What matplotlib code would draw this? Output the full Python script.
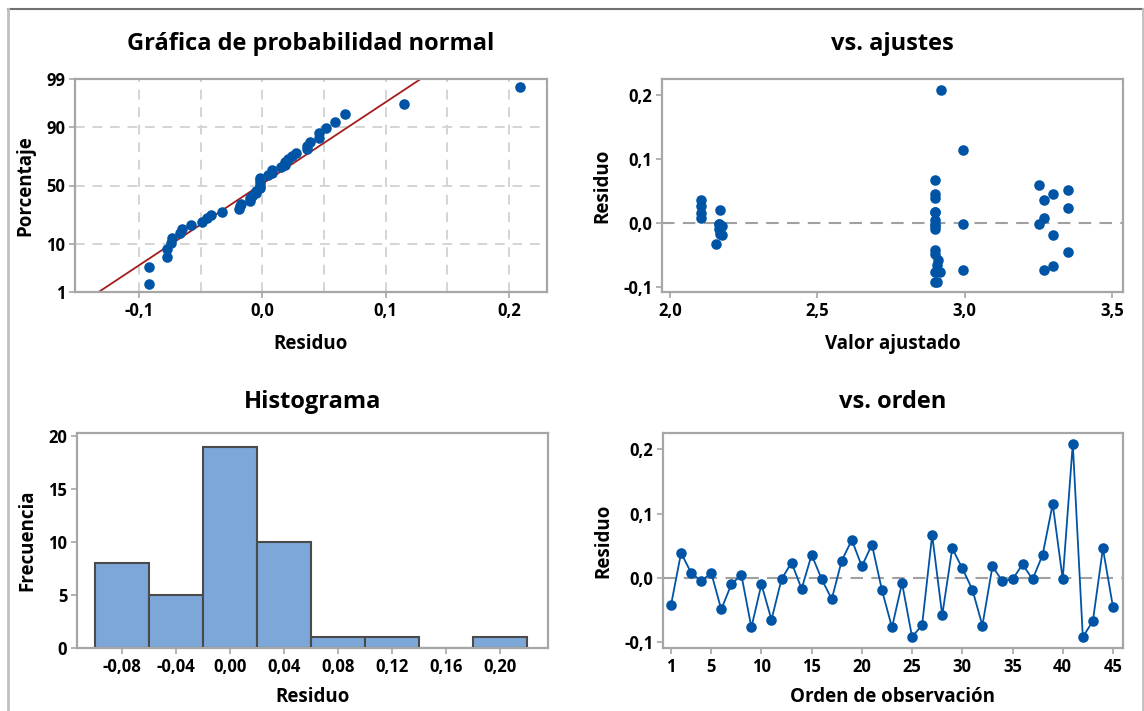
import numpy as np
import matplotlib
matplotlib.use("Agg")
import matplotlib.pyplot as plt
from matplotlib.ticker import FuncFormatter, FixedLocator
from matplotlib.lines import Line2D
from statistics import NormalDist

plt.rcParams['font.family'] = ['Open Sans', 'DejaVu Sans']
plt.rcParams['font.weight'] = 'bold'

# ---------------- data ----------------
observation = list(range(1, 46))
residuals = [-0.042, 0.039, 0.008, -0.005, 0.008, -0.049, -0.010, 0.005, -0.077, -0.010,
             -0.065, -0.002, 0.024, -0.017, 0.036, -0.002, -0.033, 0.027, 0.059, 0.018,
             0.052, -0.019, -0.077, -0.008, -0.092, -0.073, 0.067, -0.058, 0.046, 0.015,
             -0.018, -0.074, 0.018, -0.005, -0.002, 0.021, -0.002, 0.036, 0.115, -0.002,
             0.209, -0.092, -0.067, 0.046, -0.045]
fitted = [2.900, 2.900, 2.107, 2.900, 3.270, 2.900, 2.900, 2.900, 2.900, 2.165,
          2.905, 2.900, 3.352, 2.170, 3.270, 2.165, 2.155, 2.107, 3.251, 2.900,
          3.352, 3.300, 2.915, 2.170, 2.900, 3.270, 2.900, 2.910, 2.900, 2.107,
          2.175, 2.994, 2.900, 2.175, 2.994, 2.170, 2.165, 2.107, 2.994, 3.251,
          2.919, 2.905, 3.300, 3.300, 3.352]
hist_edges = [-0.10, -0.06, -0.02, 0.02, 0.06, 0.10, 0.14, 0.18, 0.22]

prob_yticks = [1, 10, 50, 90, 99]
prob_xticks = [-0.1, 0.0, 0.1, 0.2]
prob_xgrid = [-0.1, -0.05, 0.0, 0.05, 0.1, 0.15, 0.2]
fits_xticks = [2.0, 2.5, 3.0, 3.5]
res_yticks = [-0.1, 0.0, 0.1, 0.2]
hist_xticks = [-0.08, -0.04, 0.00, 0.04, 0.08, 0.12, 0.16, 0.20]
hist_yticks = [0, 5, 10, 15, 20]
order_xticks = [1, 5, 10, 15, 20, 25, 30, 35, 40, 45]

# ---------------- styles ----------------
W, H = 1144, 711
BLUE = '#0054a6'
SPINE = '#a6a6a6'
GRID = '#d4d4d4'
TICKFS = 12
LABELFS = 13.5
TITLEFS = 17
MS = 7.6

fig = plt.figure(figsize=(W / 100, H / 100), dpi=100)
fig.patch.set_facecolor('white')

def px_axes(l, r, t, b):
    return fig.add_axes([l / W, 1 - b / H, (r - l) / W, (b - t) / H])

def comma_fmt(dec):
    def f(v, pos):
        s = f"{v:.{dec}f}".replace('.', ',')
        if s.startswith('-') and float(v) == 0:
            s = s[1:]
        return s
    return FuncFormatter(f)

def style(ax):
    for s in ax.spines.values():
        s.set_color(SPINE)
        s.set_linewidth(1.6)
    ax.tick_params(axis='both', colors=SPINE, labelcolor='black', length=4, width=1.2,
                   labelsize=TICKFS, direction='out')
    ax.tick_params(axis='x', pad=3)
    ax.tick_params(axis='y', pad=3)
    for lab in ax.get_xticklabels() + ax.get_yticklabels():
        lab.set_fontweight('bold')

nd = NormalDist()

def probit(p):
    arr = np.asarray(p, dtype=float)
    out = np.full(arr.shape, np.nan)
    flat = arr.ravel()
    o = out.ravel()
    for i, v in enumerate(flat):
        if np.isfinite(v):
            q = min(max(v / 100.0, 1e-9), 1 - 1e-9)
            o[i] = nd.inv_cdf(q)
    return o.reshape(arr.shape)

def inv_probit(z):
    arr = np.asarray(z, dtype=float)
    out = np.full(arr.shape, np.nan)
    flat = arr.ravel()
    o = out.ravel()
    for i, v in enumerate(flat):
        if np.isfinite(v):
            o[i] = nd.cdf(v) * 100.0
    return o.reshape(arr.shape)

res = np.array(residuals)
n = len(res)

# ---------------- 1. normal probability plot ----------------
ax1 = px_axes(75, 547, 79, 292)
ax1.set_yscale('function', functions=(probit, inv_probit))
ax1.set_ylim(1, 99)
ax1.set_xlim(-0.152, 0.231)
for g in prob_xgrid:
    ax1.axvline(g, color=GRID, lw=1.4, ls=(0, (5, 4)), zorder=0)
for g in [10, 50, 90]:
    ax1.axhline(g, color=GRID, lw=1.4, ls=(0, (5, 4)), zorder=0)
srt = np.sort(res)
ranks = (np.arange(1, n + 1) - 0.3) / (n + 0.4) * 100
mu, sd = res.mean(), res.std(ddof=1)
pline = np.linspace(1, 99, 200)
ax1.plot(mu + sd * probit(pline), pline, color='#a51c1c', lw=1.3, zorder=2)
ax1.plot(srt, ranks, 'o', color=BLUE, ms=MS, mec='none', zorder=3)
ax1.yaxis.set_major_locator(FixedLocator(prob_yticks))
ax1.yaxis.set_minor_locator(FixedLocator([]))
ax1.yaxis.set_major_formatter(FuncFormatter(lambda v, p: f"{v:.0f}"))
ax1.xaxis.set_major_locator(FixedLocator(prob_xticks))
ax1.xaxis.set_major_formatter(comma_fmt(1))
style(ax1)
ax1.set_xlabel('Residuo', fontsize=LABELFS, fontweight='bold', labelpad=10)
ax1.set_ylabel('Porcentaje', fontsize=LABELFS, fontweight='bold', labelpad=8)
ax1.set_title('Gráfica de probabilidad normal', fontsize=TITLEFS, fontweight='bold', pad=21)

# ---------------- 2. vs fits ----------------
ax2 = px_axes(662, 1123, 79, 292)
ax2.set_xlim(1.973, 3.537)
ax2.set_ylim(-0.108, 0.2257)
ax2.axhline(0, color='#a0a0a0', lw=1.5, ls=(0, (6, 4)), zorder=1)
ax2.plot(fitted, residuals, 'o', color=BLUE, ms=MS, mec='none', zorder=3)
ax2.xaxis.set_major_locator(FixedLocator(fits_xticks))
ax2.xaxis.set_major_formatter(comma_fmt(1))
ax2.yaxis.set_major_locator(FixedLocator(res_yticks))
ax2.yaxis.set_major_formatter(comma_fmt(1))
style(ax2)
ax2.set_xlabel('Valor ajustado', fontsize=LABELFS, fontweight='bold', labelpad=10)
ax2.set_ylabel('Residuo', fontsize=LABELFS, fontweight='bold', labelpad=8)
ax2.set_title('vs. ajustes', fontsize=TITLEFS, fontweight='bold', pad=21)

# ---------------- 3. histogram ----------------
ax3 = px_axes(77, 548, 433, 648)
ax3.hist(res, bins=hist_edges, color='#7da7d9', edgecolor='#4a4a4a', linewidth=1.5, zorder=2)
ax3.set_xlim(-0.1133, 0.2356)
ax3.set_ylim(0, 20.3)
ax3.xaxis.set_major_locator(FixedLocator(hist_xticks))
ax3.xaxis.set_major_formatter(comma_fmt(2))
ax3.yaxis.set_major_locator(FixedLocator(hist_yticks))
style(ax3)
ax3.set_xlabel('Residuo', fontsize=LABELFS, fontweight='bold', labelpad=8)
ax3.set_ylabel('Frecuencia', fontsize=LABELFS, fontweight='bold', labelpad=8)
ax3.set_title('Histograma', fontsize=TITLEFS, fontweight='bold', pad=18)

# ---------------- 4. vs order ----------------
ax4 = px_axes(663, 1123, 433, 648)
ax4.set_xlim(0.2, 46.0)
ax4.set_ylim(-0.109, 0.2255)
ax4.axhline(0, color='#a0a0a0', lw=1.5, ls=(0, (6, 4)), zorder=1)
ax4.plot(observation, residuals, '-o', color=BLUE, lw=1.3, ms=MS, mec='none', zorder=3)
ax4.xaxis.set_major_locator(FixedLocator(order_xticks))
ax4.yaxis.set_major_locator(FixedLocator(res_yticks))
ax4.yaxis.set_major_formatter(comma_fmt(1))
style(ax4)
ax4.set_xlabel('Orden de observación', fontsize=LABELFS, fontweight='bold', labelpad=8)
ax4.set_ylabel('Residuo', fontsize=LABELFS, fontweight='bold', labelpad=8)
ax4.set_title('vs. orden', fontsize=TITLEFS, fontweight='bold', pad=18)

# ---------------- outer frame ----------------
fig.add_artist(Line2D([8 / W, 1.0], [1 - 9 / H, 1 - 9 / H], transform=fig.transFigure,
                      color='#707070', lw=1.5))
fig.add_artist(Line2D([7.5 / W, 7.5 / W], [0, 1 - 9 / H], transform=fig.transFigure,
                      color='#c0c0c0', lw=2))
fig.add_artist(Line2D([1142.5 / W, 1142.5 / W], [0, 1 - 9 / H], transform=fig.transFigure,
                      color='#c0c0c0', lw=2))

fig.savefig('out.png', dpi=100)
